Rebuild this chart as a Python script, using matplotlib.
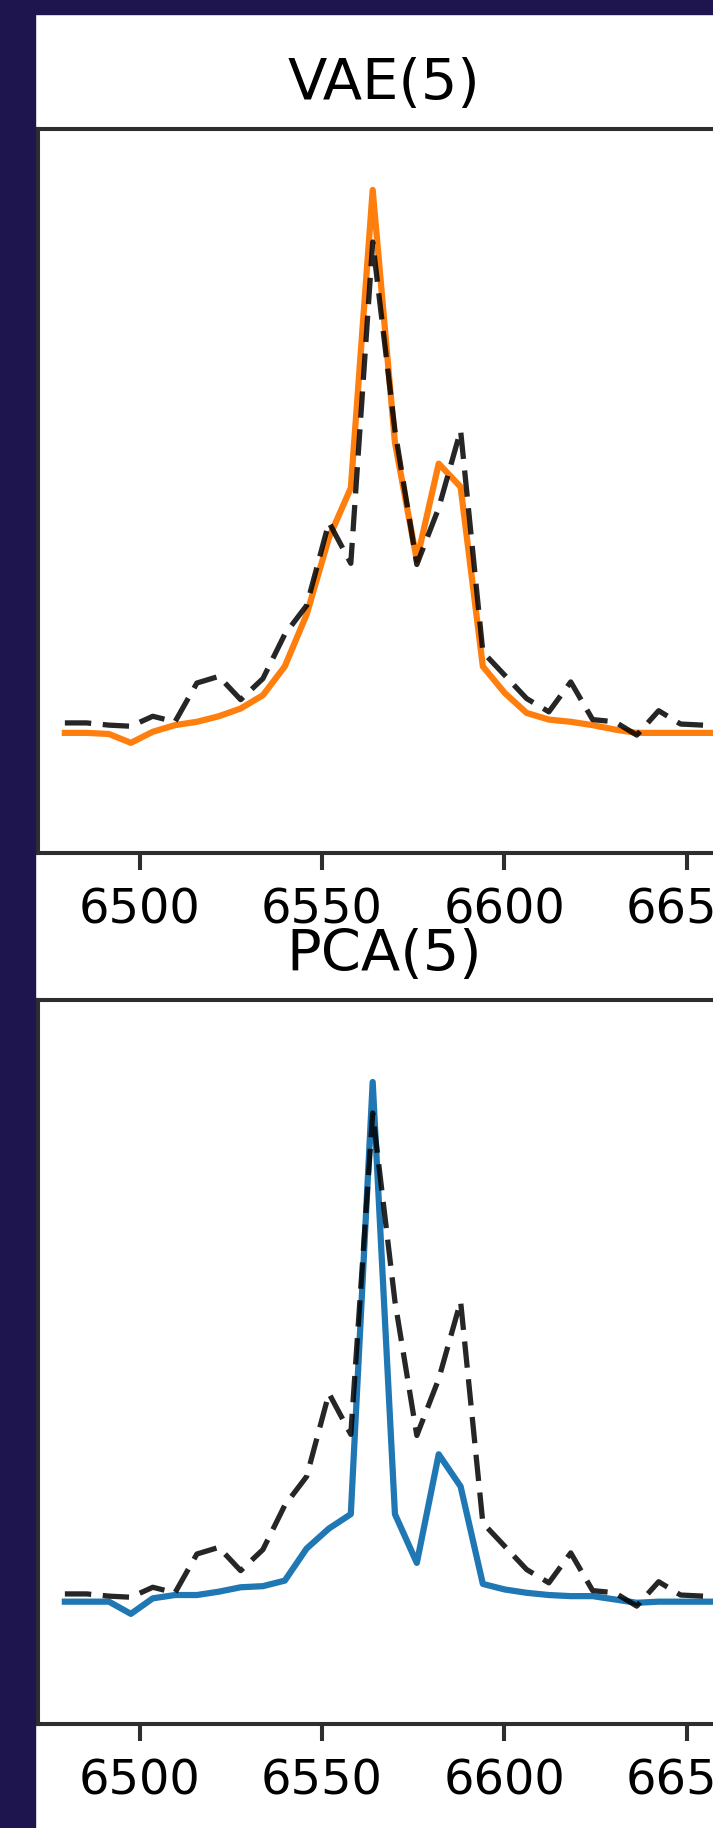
import matplotlib
matplotlib.use("Agg")
import matplotlib.pyplot as plt
from matplotlib.patches import Rectangle

# wavelength grid (Angstrom) and fluxes
wave = [6479.5, 6485.5, 6491.6, 6497.6, 6503.6, 6509.7, 6515.7, 6521.7,
        6527.7, 6533.8, 6539.8, 6545.8, 6551.9, 6557.9, 6563.9, 6570.0,
        6576.0, 6582.0, 6588.0, 6594.1, 6600.1, 6606.1, 6612.2, 6618.2,
        6624.2, 6630.3, 6636.3, 6642.3, 6648.3, 6654.4, 6660.4]
observed = [0.66, 0.66, 0.64, 0.63, 0.72, 0.67, 1.02, 1.08, 0.87, 1.06,
            1.46, 1.72, 2.47, 2.10, 5.00, 3.30, 2.09, 2.60, 3.30, 1.30,
            1.09, 0.88, 0.76, 1.03, 0.69, 0.67, 0.55, 0.77, 0.65, 0.64, 0.63]
vae_recon = [0.57, 0.57, 0.56, 0.48, 0.58, 0.64, 0.67, 0.72, 0.79, 0.91,
             1.17, 1.64, 2.33, 2.78, 5.47, 3.19, 2.13, 3.00, 2.79, 1.17,
             0.93, 0.75, 0.69, 0.67, 0.64, 0.60, 0.57, 0.57, 0.57, 0.57, 0.57]
pca_recon = [0.59, 0.59, 0.59, 0.48, 0.62, 0.65, 0.65, 0.68, 0.72, 0.73,
             0.78, 1.07, 1.25, 1.38, 5.28, 1.38, 0.94, 1.92, 1.63, 0.75,
             0.70, 0.67, 0.65, 0.64, 0.64, 0.61, 0.58, 0.59, 0.59, 0.59, 0.59]
titles = ["VAE(5)", "PCA(5)"]
colors = ["#ff7f0e", "#1f77b4"]
xticks = [6500, 6550, 6600, 6650]
yticks = [0, 1, 2, 3, 4, 5, 6]

W, H = 713, 1828
S = 3.45           # reference is a default-style figure blown up ~3.5x
BG = "#1e144e"
INK = "#2e2e2e"

fig = plt.figure(figsize=(W / 100, H / 100), dpi=100)
fig.patch.set_facecolor("white")


def panel(top_px, title, recon, color):
    ax = fig.add_axes([37.5 / W, 1 - (top_px + 724) / H, 693 / W, 724 / H])
    ax.plot(wave, recon, color=color, lw=1.3 * S, zorder=2)
    ax.plot(wave, observed, color="k", ls=(0, (5, 2.2)), lw=1.1 * S,
            alpha=0.85, zorder=3)
    ax.set_xlim(6472, 6662)
    ax.set_ylim(-0.514, 6.02)
    ax.set_xticks(xticks)
    ax.set_yticks(yticks)
    ax.set_yticklabels([])
    for s in ax.spines.values():
        s.set_linewidth(0.85 * S)
        s.set_color(INK)
    ax.tick_params(length=3.5 * S, width=0.85 * S, pad=3.5 * S,
                   labelsize=10 * S, color=INK)
    ax.set_title(title, fontsize=12 * S, pad=6 * S)
    return ax


panel(129, titles[0], vae_recon, colors[0])
panel(1000, titles[1], pca_recon, colors[1])

# the reference is a crop: dark page shows on the left and top
fig.add_artist(Rectangle((0, 0), 35 / W, 1, transform=fig.transFigure,
                         color=BG, zorder=20))
fig.add_artist(Rectangle((0, 1 - 14 / H), 1, 14 / H, transform=fig.transFigure,
                         color=BG, zorder=20))

fig.savefig("out.png", dpi=100, facecolor=fig.get_facecolor())
